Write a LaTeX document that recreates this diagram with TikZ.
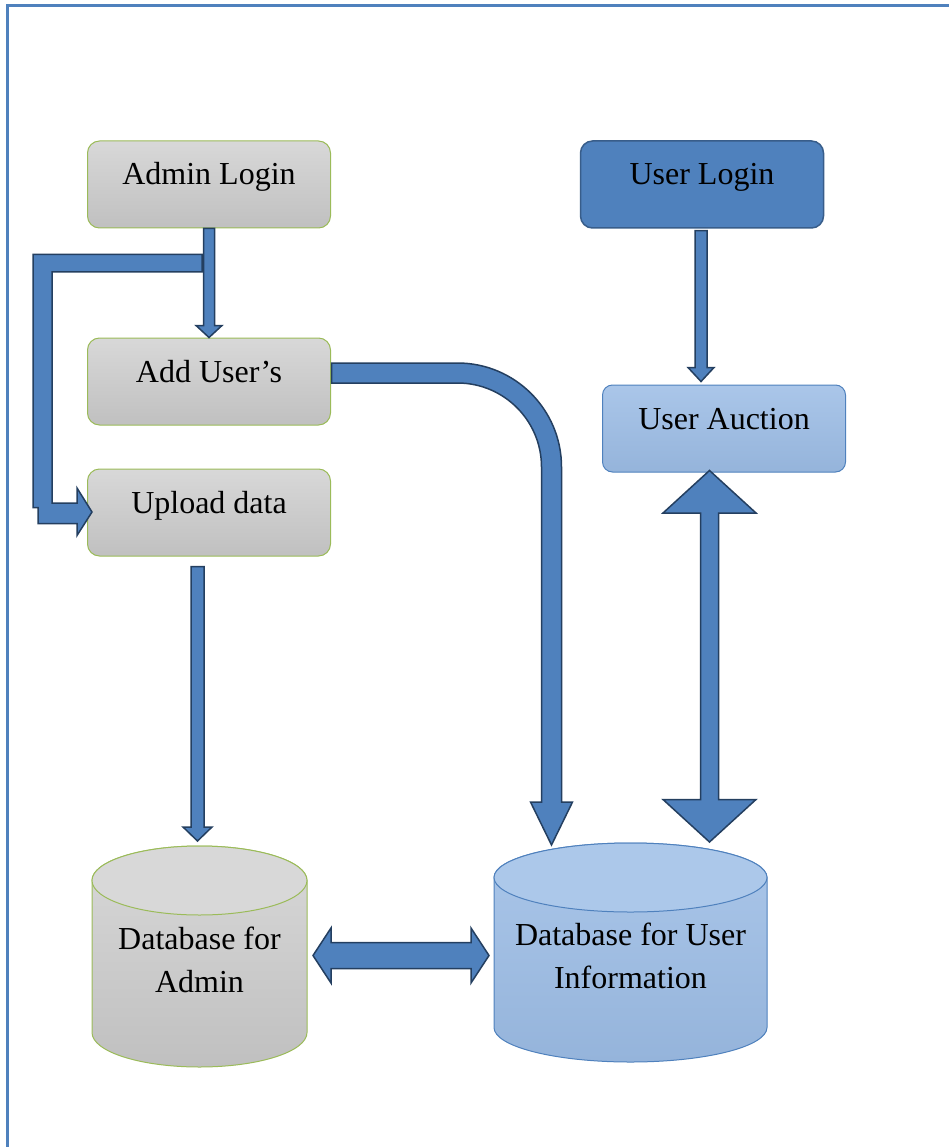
\documentclass[tikz,border=0pt]{standalone}
\usepackage{fontspec}
\setmainfont{Liberation Serif}
\usepackage{tikz}
\usetikzlibrary{calc,backgrounds}
\usepackage{color}

\definecolor{graytop}{RGB}{216,216,216}
\definecolor{graybot}{RGB}{192,192,192}
\definecolor{boxgreen}{RGB}{155,187,89}
\definecolor{framecol}{RGB}{79,129,189}
\definecolor{loginline}{RGB}{56,93,138}
\definecolor{bluetop}{RGB}{170,198,233}
\definecolor{bluebot}{RGB}{149,180,219}
\definecolor{bluecap}{RGB}{172,200,234}
\definecolor{arrowblue}{RGB}{79,129,189}
\definecolor{arrowline}{RGB}{36,63,96}

\newcommand{\boxfont}{\fontsize{32}{38}\selectfont}
\newcommand{\dbfont}{\fontsize{32}{43}\selectfont}

% straight block arrow: from, to, half shaft, half head, head length
\newcommand{\blockarrow}[5]{%
  \coordinate (neck) at ($(#2)!#5!(#1)$);
  \path[barrow] ($(#1)!#3!90:(#2)$) -- ($(neck)!#3!90:(#2)$) -- ($(neck)!#4!90:(#2)$)
    -- (#2) -- ($(neck)!#4!-90:(#2)$) -- ($(neck)!#3!-90:(#2)$) -- ($(#1)!#3!-90:(#2)$) -- cycle;
}
% block arrow with two heads
\newcommand{\twoarrow}[5]{%
  \coordinate (necka) at ($(#1)!#5!(#2)$);
  \coordinate (neckb) at ($(#2)!#5!(#1)$);
  \path[barrow] (#1) -- ($(necka)!#4!-90:(#2)$) -- ($(necka)!#3!-90:(#2)$) -- ($(neckb)!#3!-90:(#2)$)
    -- ($(neckb)!#4!-90:(#2)$) -- (#2) -- ($(neckb)!#4!90:(#2)$) -- ($(neckb)!#3!90:(#2)$)
    -- ($(necka)!#3!90:(#2)$) -- ($(necka)!#4!90:(#2)$) -- cycle;
}
% cylinder behind a db node: node, x radius, y radius, body style, cap style
\newcommand{\dbcyl}[5]{%
  \path[#4] ($(#1.north west)+(0,#3)$) -- ($(#1.south west)+(0,-#3)$)
    arc[start angle=180, end angle=0, x radius=#2, y radius=#3]
    -- ($(#1.north east)+(0,#3)$)
    arc[start angle=0, end angle=-180, x radius=#2, y radius=#3] -- cycle;
  \path[#5] ($(#1.north)+(0,#3)$) ellipse [x radius=#2, y radius=#3];
}

\tikzset{
  barrow/.style={draw=arrowline, fill=arrowblue, line width=1.5pt, line join=miter},
  boxstyle/.style={rounded corners=12pt, minimum width=243pt, minimum height=87pt,
    inner sep=0pt, font=\boxfont, text height=23pt, text depth=22pt},
  adminbox/.style={boxstyle, draw=boxgreen, line width=1pt, top color=graytop, bottom color=graybot},
  loginbox/.style={boxstyle, draw=loginline, line width=1.5pt, fill=framecol},
  auctionbox/.style={boxstyle, rounded corners=10pt, draw=framecol, line width=1pt,
    top color=bluetop, bottom color=bluebot},
  dbnode/.style={inner sep=0pt, outer sep=0pt, align=center, font=\dbfont},
}

\begin{document}
\begin{tikzpicture}[x=1pt,y=-1pt]
\useasboundingbox (0,0) rectangle (949,1147);
% page frame
\draw[line width=3pt, framecol] (7,1150) -- (7,5.5) -- (952,5.5);

% admin side
\node[adminbox] (admin) at (209,184.5) {Admin Login};
\node[adminbox] (adduser) at (209,381.5) {Add User's};
\node[adminbox] (upload) at (209,512.5) {Upload data};

% user side
\node[loginbox] (ulogin) at (702,184.5) {User Login};
\node[auctionbox] (uauction) at (724,428.5) {User Auction};

% databases
\node[dbnode, minimum width=215pt, minimum height=221pt] (dbadmin) at (199.5,956.5) {\rule{0pt}{29pt}Database for\\Admin};
\node[dbnode, minimum width=273pt, minimum height=219pt] (dbuser) at (630.5,952.5) {\rule{0pt}{29pt}Database for User\\Information};
\begin{scope}[on background layer]
  \dbcyl{dbadmin}{107.5}{34.5}{draw=boxgreen, line width=1pt, top color=graytop, bottom color=graybot}{draw=boxgreen, line width=1pt, fill=graytop}
  \dbcyl{dbuser}{136.5}{34.5}{draw=framecol, line width=1pt, top color=bluetop, bottom color=bluebot}{draw=framecol, line width=1pt, fill=bluecap}
\end{scope}

% bent arrow to upload
\path[barrow] ($(admin.south)+(-7,26)$) -- ++(-169,0) -- ++(0,253) -- ++(5,0) -- ++(0,16)
  -- ++(39,0) -- ++(0,12) -- ($(upload.west)+(5,-0.5)$) -- ++(-15,-24) -- ++(0,15)
  -- ++(-25,0) -- ++(0,-231) -- ++(150,0) -- cycle;
\blockarrow{admin.south}{adduser.north}{5.5pt}{13pt}{12pt}

% curved arrow to user db
\path[barrow] ($(adduser.east)+(0.5,-18.5)$) -- ++(126,0) arc[start angle=-90, end angle=0, radius=104]
  -- ++(0,335) -- ++(11,0) -- ++(-21,43) -- ++(-21,-43) -- ++(11,0) -- ++(0,-335)
  arc[start angle=0, end angle=-90, radius=84] -- ++(-126,0) -- cycle;

\coordinate (upload-out) at ($(upload.south)+(-11.5,10)$);
\coordinate (dbadmin-in) at ($(dbadmin.north)+(-2,-5)$);
\blockarrow{upload-out}{dbadmin-in}{6.5pt}{14.5pt}{14pt}

\coordinate (ulogin-out) at ($(ulogin.south)+(-1,2)$);
\coordinate (uauction-in) at ($(uauction.north)+(-23,-3)$);
\blockarrow{ulogin-out}{uauction-in}{6pt}{13pt}{14pt}

\coordinate (uauction-end) at ($(uauction.south)+(-14.5,-2)$);
\coordinate (dbuser-end) at ($(dbuser.north)+(79,-1)$);
\twoarrow{uauction-end}{dbuser-end}{9pt}{46.5pt}{42.5pt}

\coordinate (dbadmin-end) at ($(dbadmin.east)+(6,-1)$);
\coordinate (dbuser-side) at ($(dbuser.west)+(-5,3)$);
\twoarrow{dbadmin-end}{dbuser-side}{13pt}{27.5pt}{18pt}
\end{tikzpicture}
\end{document}
